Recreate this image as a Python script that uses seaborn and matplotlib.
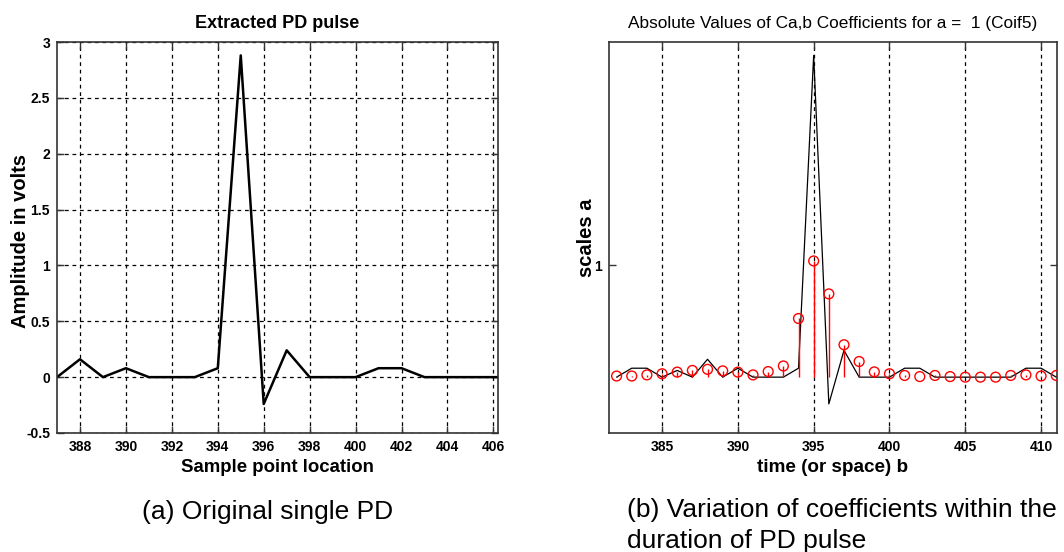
import numpy as np
import pandas as pd
import matplotlib
matplotlib.use("Agg")
import matplotlib.pyplot as plt
import seaborn as sns

# Sample positions and the extracted PD pulse amplitude (volts)
sample_pos = list(range(382, 412))
pulse_amp = [0.0, 0.08, 0.08, 0.0, 0.06, 0.0, 0.16, 0.0, 0.08, 0.0,
             0.0, 0.0, 0.08, 2.88, -0.24, 0.24, 0.0, 0.0, 0.0, 0.08,
             0.08, 0.0, 0.0, 0.0, 0.0, 0.0, 0.0, 0.08, 0.08, 0.0]

# Absolute values of the Coif5 coefficients at scale a = 1
coef_abs = [0.01, 0.01, 0.02, 0.03, 0.045, 0.06, 0.07, 0.056, 0.045, 0.02,
            0.05, 0.10, 0.525, 1.04, 0.745, 0.29, 0.14, 0.047, 0.03, 0.015,
            0.005, 0.015, 0.005, 0.0, 0.0, 0.0, 0.015, 0.02, 0.01, 0.015]

left_xticks = [388, 390, 392, 394, 396, 398, 400, 402, 404, 406]
left_yticks = [-0.5, 0, 0.5, 1, 1.5, 2, 2.5, 3]
left_ytick_labels = ["-0.5", "0", "0.5", "1", "1.5", "2", "2.5", "3"]
right_xticks = [385, 390, 395, 400, 405, 410]
right_yticks = [1]

df = pd.DataFrame({"b": sample_pos, "amp": pulse_amp, "coef": coef_abs})

sns.set_style("white")
plt.rcParams["font.family"] = ["Liberation Sans", "DejaVu Sans"]
plt.rcParams["text.color"] = "black"
plt.rcParams["axes.labelcolor"] = "black"
plt.rcParams["xtick.color"] = "black"
plt.rcParams["ytick.color"] = "black"
tick_font = dict(family=["Liberation Sans Narrow", "Liberation Sans"], weight="bold", size=10)

fig = plt.figure(figsize=(10.64, 5.52), dpi=100)
ax1 = fig.add_axes([57 / 1064, 1 - 433 / 552, (498 - 57) / 1064, (433 - 42) / 552])
ax2 = fig.add_axes([609 / 1064, 1 - 433 / 552, (1057 - 609) / 1064, (433 - 42) / 552])

frame_col = "#333333"


def style_axes(ax):
    for sp in ax.spines.values():
        sp.set_color(frame_col)
        sp.set_linewidth(1.2)
        sp.set_visible(True)
    ax.tick_params(direction="in", length=5, width=1, color=frame_col,
                   labelcolor="black", top=True, right=True, bottom=True,
                   left=True, pad=5)


# (a) extracted pulse
sns.lineplot(data=df, x="b", y="amp", ax=ax1, color="black", linewidth=1.8)
ax1.set_xlim(387, 406.2)
ax1.set_ylim(-0.5, 3)
ax1.set_xticks(left_xticks)
ax1.set_xticklabels([str(t) for t in left_xticks], fontdict=tick_font)
ax1.set_yticks(left_yticks)
ax1.set_yticklabels(left_ytick_labels, fontdict=tick_font)
ax1.grid(True, color="black", linestyle=(0, (3, 3)), linewidth=0.9)
style_axes(ax1)
ax1.set_title("Extracted PD pulse", fontsize=13, fontweight="bold", pad=10)
ax1.set_xlabel("Sample point location", fontsize=13.4, fontweight="bold", labelpad=4)
ax1.set_ylabel("Amplitude in volts", fontsize=14.5, fontweight="bold")
ax1.yaxis.set_label_coords((30 - 57) / 441, 0.49)

# (b) coefficient magnitudes over the pulse
sns.lineplot(data=df, x="b", y="amp", ax=ax2, color="black", linewidth=0.9)
ax2.vlines(df["b"], 0, df["coef"], color="red", linewidth=1.0)
sns.scatterplot(data=df, x="b", y="coef", ax=ax2, marker="o", s=50,
                facecolors="none", edgecolor="red", linewidth=1.0, zorder=3)
ax2.set_xlim(381.5, 411.05)
ax2.set_ylim(-0.5, 3)
ax2.set_xticks(right_xticks)
ax2.set_xticklabels([str(t) for t in right_xticks], fontdict=tick_font)
ax2.set_yticks(right_yticks)
ax2.set_yticklabels([str(t) for t in right_yticks], fontdict=tick_font)
ax2.grid(True, axis="x", color="black", linestyle=(0, (3, 3)), linewidth=0.9)
ax2.grid(False, axis="y")
style_axes(ax2)
ax2.set_title("Absolute Values of Ca,b Coefficients for a =  1 (Coif5)",
              fontsize=12.4, pad=10)
ax2.set_xlabel("time (or space) b", fontsize=13.6, fontweight="bold", labelpad=4)
ax2.set_ylabel("scales a", fontsize=14.5, fontweight="bold")
ax2.yaxis.set_label_coords((596 - 609) / 448, 0.5)

# Panel captions
fig.text(268 / 1064, 1 - 512 / 552, "(a) Original single PD", fontsize=19,
         ha="center", va="center")
fig.text(627 / 1064, 1 - 510 / 552, "(b) Variation of coefficients within the",
         fontsize=19, ha="left", va="center")
fig.text(627 / 1064, 1 - 541 / 552, "duration of PD pulse",
         fontsize=19, ha="left", va="center")

fig.savefig("out.png", dpi=100)
